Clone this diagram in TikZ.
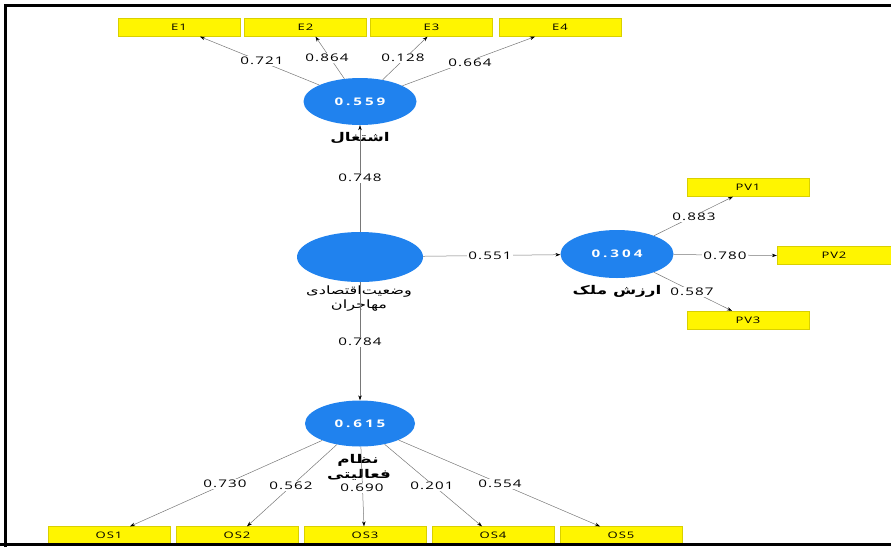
\documentclass[tikz,border=0pt]{standalone}
\usepackage{fontspec}
\setmainfont[FakeStretch=1.45]{Open Sans}
\newfontfamily\numfont[FakeStretch=1.45,LetterSpace=10]{Open Sans}
\newfontfamily\innerfont[FakeStretch=1.45,LetterSpace=28]{Open Sans}
\newfontfamily\fa[Script=Arabic,FakeStretch=1.4]{DejaVu Sans}
\TeXXeTstate=1
\usetikzlibrary{arrows.meta,shapes.geometric}
\definecolor{lvblue}{RGB}{32,130,238}
\definecolor{indyellow}{RGB}{255,245,0}
\definecolor{pathgray}{RGB}{120,120,120}
\tikzset{
  lv/.style={ellipse, fill=lvblue, text=white, inner sep=0pt,
    font=\innerfont\bfseries\fontsize{10.5}{12}\selectfont},
  ind/.style={rectangle, fill=indyellow, draw=indyellow!85!black, line width=0.3pt,
    minimum width=122pt, minimum height=18pt, inner sep=0pt,
    font=\numfont\fontsize{9}{10}\selectfont},
  pth/.style={draw=pathgray, line width=0.5pt, -{Stealth[length=5pt,width=3.5pt,color=black]}},
  lab/.style={fill=white, inner sep=1pt, font=\numfont\fontsize{10.5}{12}\selectfont},
  falab/.style={inner sep=0pt, font=\fa\bfseries\fontsize{12}{14}\selectfont},
  falabreg/.style={inner sep=0pt, font=\fa\fontsize{11.5}{13}\selectfont},
  frame/.style={line width=3pt, black}
}
\begin{document}
\begin{tikzpicture}[x=1pt,y=-1pt]
\useasboundingbox (0,0) rectangle (891,547);
% latent variables
\node[lv, minimum width=113pt, minimum height=47pt] (emp) at (360,101.5) {0.559};
\node[lv, minimum width=126pt, minimum height=50pt] (eco) at (360,257) {};
\node[lv, minimum width=113pt, minimum height=48pt] (prop) at (617,254) {0.304};
\node[lv, minimum width=110pt, minimum height=46pt] (act) at (360,423.5) {0.615};
% indicators
\node[ind] (E1) at (179,27.5) {E1};
\node[ind] (E2) at (305.5,27.5) {E2};
\node[ind] (E3) at (431.5,27.5) {E3};
\node[ind] (E4) at (560,27.5) {E4};
\node[ind] (PV1) at (748,187.5) {PV1};
\node[ind, minimum width=114pt] (PV2) at (834,255.5) {PV2};
\node[ind] (PV3) at (748,320) {PV3};
\node[ind] (OS1) at (109,535.5) {OS1};
\node[ind] (OS2) at (237,535.5) {OS2};
\node[ind] (OS3) at (365,535.5) {OS3};
\node[ind] (OS4) at (493,535.5) {OS4};
\node[ind] (OS5) at (621,535.5) {OS5};
% construct labels
\node[falab] (tEmp) at (360,138) {\beginR اشتغال\endR};
\node[falabreg] (tEco1) at (359,292) {\beginR وضعیت‌اقتصادی\endR};
\node[falabreg] (tEco2) at (359,306) {\beginR مهاجران\endR};
\node[falab] (tProp) at (617,291) {\beginR ارزش ملک\endR};
\node[falab] (tAct1) at (358,460) {\beginR نظام\endR};
\node[falab] (tAct2) at (359,475) {\beginR فعالیتی\endR};
% paths
\draw[pth] (emp) -- ([xshift=21pt]E1.south);
\draw[pth] (emp) -- ([xshift=10pt]E2.south);
\draw[pth] (emp) -- ([xshift=-4pt]E3.south);
\draw[pth] (emp) -- ([xshift=-25pt]E4.south);
\draw[pth] (eco) -- (emp);
\draw[pth] (eco) -- (act);
\draw[pth] (eco) -- (prop);
\draw[pth] (prop) -- ([xshift=-15pt]PV1.south);
\draw[pth] (prop) -- (PV2.west);
\draw[pth] (prop) -- ([xshift=-16pt]PV3.north);
\draw[pth] (act) -- ([xshift=21pt]OS1.north);
\draw[pth] (act) -- ([xshift=10pt]OS2.north);
\draw[pth] (act) -- ([xshift=-1pt]OS3.north);
\draw[pth] (act) -- ([xshift=-11pt]OS4.north);
\draw[pth] (act) -- ([xshift=-21pt]OS5.north);
% coefficient labels
\node[lab] (c1) at (262,61) {0.721};
\node[lab] (c2) at (327,58) {0.864};
\node[lab] (c3) at (403,58) {0.128};
\node[lab] (c4) at (470,63) {0.664};
\node[lab] (c5) at (360,178) {0.748};
\node[lab] (c6) at (360,342) {0.784};
\node[lab] (c7) at (490,256) {0.551};
\node[lab] (c8) at (694,217) {0.883};
\node[lab] (c9) at (725,256) {0.780};
\node[lab] (c10) at (692,292) {0.587};
\node[lab] (c11) at (225,484) {0.730};
\node[lab] (c12) at (291,486) {0.562};
\node[lab] (c13) at (362,488) {0.690};
\node[lab] (c14) at (432,486) {0.201};
\node[lab] (c15) at (500,484) {0.554};
% frame
\draw[frame] (5.5,547) -- (5.5,5.5) -- (891,5.5);
\draw[frame] (0,544.5) -- (891,544.5);
\end{tikzpicture}
\end{document}
